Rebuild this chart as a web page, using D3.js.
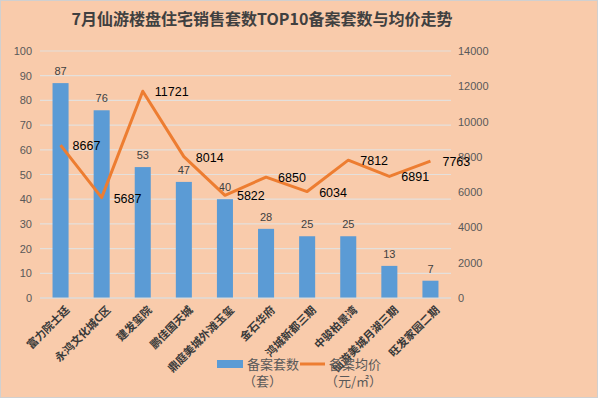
<!DOCTYPE html>
<html>
<head>
<meta charset="utf-8">
<script src="https://cdn.jsdelivr.net/npm/d3@7"></script>
<style>
  body { margin: 0; background: #fff; }
  svg { display: block; font-family: "Noto Sans CJK SC", "Noto Sans", sans-serif; }
</style>
</head>
<body>
<div class="chart"></div>
<script>
// 楼盘名称
const projects = ["富力院士廷", "永鸿文化城C区", "建发玺院", "鹏佳国天城", "鼎庭美城外滩玉玺",
  "金石华府", "鸿城新都三期", "中骏柏景湾", "仙游美城月湖三期", "旺发家园二期"];
// 备案套数（套）
const units = [87, 76, 53, 47, 40, 28, 25, 25, 13, 7];
// 备案均价（元/㎡）
const prices = [8667, 5687, 11721, 8014, 5822, 6850, 6034, 7812, 6891, 7763];
const leftTicks = [0, 10, 20, 30, 40, 50, 60, 70, 80, 90, 100];
const rightTicks = [0, 2000, 4000, 6000, 8000, 10000, 12000, 14000];

const width = 598, height = 398;
const plot = { left: 40, right: 451, top: 51, bottom: 298 };

const svg = d3.select(".chart").append("svg")
  .attr("width", width).attr("height", height);

svg.append("rect")
  .attr("x", 0.5).attr("y", 0.5)
  .attr("width", width - 1).attr("height", height - 1)
  .attr("fill", "#f9cbab").attr("stroke", "#d0d0d0");

svg.append("text")
  .attr("x", 262).attr("y", 25)
  .attr("text-anchor", "middle")
  .attr("font-size", 16).attr("font-weight", "bold")
  .attr("fill", "#404040")
  .text("7月仙游楼盘住宅销售套数TOP10备案套数与均价走势");

const x = d3.scaleBand()
  .domain(projects)
  .range([plot.left, plot.right])
  .paddingInner(0.61).paddingOuter(0.305);

const yL = d3.scaleLinear().domain([0, 100]).range([plot.bottom, plot.top]);
const yR = d3.scaleLinear().domain([0, 14000]).range([plot.bottom, plot.top]);

// 网格线
svg.append("g").selectAll("line")
  .data(leftTicks)
  .join("line")
  .attr("x1", plot.left).attr("x2", plot.right)
  .attr("y1", d => yL(d)).attr("y2", d => yL(d))
  .attr("stroke", "#e4e0dc").attr("stroke-width", 1.2);

// 左轴
const leftAxis = svg.append("g")
  .attr("transform", `translate(${plot.left - 8},0)`)
  .call(d3.axisLeft(yL).tickValues(leftTicks).tickSize(0).tickPadding(0));
leftAxis.select(".domain").remove();
leftAxis.selectAll("text").attr("font-size", 11).attr("fill", "#595959")
  .attr("font-family", "Liberation Sans, Arial, sans-serif");

// 右轴
const rightAxis = svg.append("g")
  .attr("transform", `translate(${plot.right + 7},0)`)
  .call(d3.axisRight(yR).tickValues(rightTicks).tickFormat(d3.format("d")).tickSize(0).tickPadding(0));
rightAxis.select(".domain").remove();
rightAxis.selectAll("text").attr("font-size", 11).attr("fill", "#595959")
  .attr("font-family", "Liberation Sans, Arial, sans-serif");

// 柱
svg.append("g").selectAll("rect")
  .data(units)
  .join("rect")
  .attr("x", (d, i) => x(projects[i]))
  .attr("width", x.bandwidth())
  .attr("y", d => yL(d))
  .attr("height", d => yL(0) - yL(d))
  .attr("fill", "#5b9bd5");

svg.append("g").selectAll("text")
  .data(units)
  .join("text")
  .attr("x", (d, i) => x(projects[i]) + x.bandwidth() / 2)
  .attr("y", d => yL(d) - 8)
  .attr("text-anchor", "middle")
  .attr("font-size", 11).attr("fill", "#404040")
  .attr("font-family", "Liberation Sans, Arial, sans-serif")
  .text(d => d);

// 折线
const cx = i => x(projects[i]) + x.bandwidth() / 2;
const line = d3.line()
  .x((d, i) => cx(i))
  .y(d => yR(d));

svg.append("path")
  .datum(prices)
  .attr("d", line)
  .attr("fill", "none")
  .attr("stroke", "#ed7d31")
  .attr("stroke-width", 3)
  .attr("stroke-linejoin", "round");

svg.append("g").selectAll("text")
  .data(prices)
  .join("text")
  .attr("x", (d, i) => cx(i) + 12)
  .attr("y", d => yR(d) + 5)
  .attr("font-size", 12.5).attr("fill", "#000")
  .attr("font-family", "Liberation Sans, Arial, sans-serif")
  .text(d => d);

// x轴底线
svg.append("line")
  .attr("x1", plot.left).attr("x2", plot.right)
  .attr("y1", plot.bottom).attr("y2", plot.bottom)
  .attr("stroke", "#d9d9d9");

// 斜放的楼盘名
svg.append("g").selectAll("text")
  .data(projects)
  .join("text")
  .attr("transform", (d, i) => `translate(${cx(i) + 7},${plot.bottom + 10}) rotate(-45)`)
  .attr("text-anchor", "end")
  .attr("dy", "0.35em")
  .attr("font-size", 11).attr("font-weight", "bold")
  .attr("fill", "#3a3a3a")
  .text(d => d);

// 图例
const legend = svg.append("g").attr("font-size", 13).attr("fill", "#595959");
legend.append("rect")
  .attr("x", 217).attr("y", 360).attr("width", 26).attr("height", 8)
  .attr("fill", "#5b9bd5");
legend.append("text").attr("x", 247).attr("y", 369).text("备案套数");
legend.append("text").attr("x", 243).attr("y", 386).text("（套）");
legend.append("line")
  .attr("x1", 300).attr("x2", 325).attr("y1", 364).attr("y2", 364)
  .attr("stroke", "#ed7d31").attr("stroke-width", 3);
legend.append("text").attr("x", 329).attr("y", 369).text("备案均价");
legend.append("text").attr("x", 325).attr("y", 386).text("（元/㎡）");
</script>
</body>
</html>
